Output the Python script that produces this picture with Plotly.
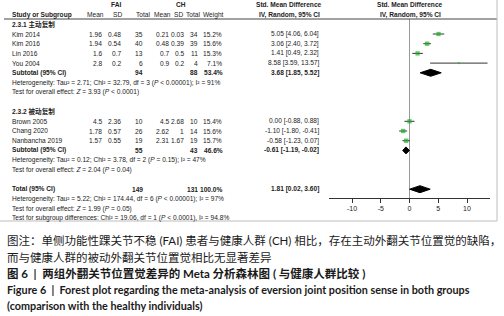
import plotly.graph_objects as go

W, H = 504, 316

# ---------------- data ----------------
group_labels = ["FAI", "CH"]
col_headers = ["Study or Subgroup", "Mean", "SD", "Total", "Mean", "SD", "Total", "Weight", "IV, Random, 95% CI"]
effect_title = "Std. Mean Difference"
effect_sub = "IV, Random, 95% CI"

sub1_title = "2.3.1 主动复制"
sub1_studies = ["Kim 2014", "Kim 2016", "Lin 2016", "You 2004"]
sub1_fai_mean = [1.96, 1.94, 1.6, 2.8]
sub1_fai_sd = [0.48, 0.54, 0.7, 0.2]
sub1_fai_n = [35, 40, 13, 6]
sub1_ch_mean = [0.21, 0.48, 0.7, 0.9]
sub1_ch_sd = [0.03, 0.39, 0.5, 0.2]
sub1_ch_n = [34, 39, 11, 4]
sub1_weight = [15.2, 15.6, 15.3, 7.1]
sub1_smd = [5.05, 3.06, 1.41, 8.58]
sub1_lo = [4.06, 2.40, 0.49, 3.59]
sub1_hi = [6.04, 3.72, 2.32, 13.57]
sub1_totals = [94, 88]
sub1_sum_weight = 53.4
sub1_sum_effect = [3.68, 1.85, 5.52]
sub1_het = "Heterogeneity: Tau² = 2.71; Chi² = 32.79, df = 3 (<i>P</i> < 0.00001); I² = 91%"
sub1_test = "Test for overall effect: <i>Z</i> = 3.93 (<i>P</i> < 0.0001)"

sub2_title = "2.3.2 被动复制"
sub2_studies = ["Brown 2005", "Chang 2020", "Nanbancha 2019"]
sub2_fai_mean = [4.5, 1.78, 1.57]
sub2_fai_sd = [2.36, 0.57, 0.55]
sub2_fai_n = [10, 26, 19]
sub2_ch_mean = [4.5, 2.62, 2.31]
sub2_ch_sd = [2.68, 1, 1.67]
sub2_ch_n = [10, 14, 19]
sub2_weight = [15.4, 15.6, 15.7]
sub2_smd = [0.00, -1.10, -0.58]
sub2_lo = [-0.88, -1.80, -1.23]
sub2_hi = [0.88, -0.41, 0.07]
sub2_totals = [55, 43]
sub2_sum_weight = 46.6
sub2_sum_effect = [-0.61, -1.19, -0.02]
sub2_het = "Heterogeneity: Tau² = 0.12; Chi² = 3.78, df = 2 (<i>P</i> = 0.15); I² = 47%"
sub2_test = "Test for overall effect: <i>Z</i> = 2.04 (<i>P</i> = 0.04)"

total_label = "Total (95% CI)"
total_totals = [149, 131]
total_weight = 100.0
total_effect = [1.81, 0.02, 3.60]
total_het = "Heterogeneity: Tau² = 5.22; Chi² = 174.44, df = 6 (<i>P</i> < 0.00001); I² = 97%"
total_test = "Test for overall effect: <i>Z</i> = 1.99 (<i>P</i> = 0.05)"
subgroup_test = "Test for subgroup differences: Chi² = 19.06, df = 1 (<i>P</i> < 0.0001), I² = 94.8%"

axis_ticks = [-10, -5, 0, 5, 10]

captions = [
    "图注：单侧功能性踝关节不稳 (FAI) 患者与健康人群 (CH) 相比，存在主动外翻关节位置觉的缺陷，",
    "而与健康人群的被动外翻关节位置觉相比无显著差异",
    "<b>图 6  |  两组外翻关节位置觉差异的 Meta 分析森林图 ( 与健康人群比较 )</b>",
    "<b>Figure 6  |  Forest plot regarding the meta-analysis of eversion joint position sense in both groups</b>",
    "<b>(comparison with the healthy individuals)</b>",
]

# ---------------- layout helpers ----------------
FONT = "Liberation Sans, Arial, Noto Sans CJK SC, sans-serif"
CAP_FONT = "Lato, Noto Sans CJK SC, sans-serif"
TXT = "#222222"
GREEN = "#1fae2a"
ROW0, ROWH = 24.3, 9.7
FS = 6.6


def row_of_px(y):
    return (y - ROW0) / ROWH


annotations = []


def txt(xpx, row, s, anchor="left", bold=False, size=FS):
    if bold:
        s = f"<b>{s}</b>"
    annotations.append(dict(x=xpx / W, xref="paper", y=row, yref="y", text=s,
                            xanchor=anchor, yanchor="middle", showarrow=False,
                            borderpad=0,
                            font=dict(family=FONT, size=size, color=TXT)))


def g(v):
    return f"{v:g}"


def ci(e, lo, hi):
    return f"{e:.2f} [{lo:.2f}, {hi:.2f}]"


X_STUDY = 11
X_DATA = [103, 122, 144, 170, 185, 199, 223, 320]
X_HEAD = [105, 123, 151, 172, 184, 201, 225, 320]
PLOT_CENTER = 410

# header rows
txt(116, -2, group_labels[0], "center", True)
txt(181, -2, group_labels[1], "center", True)
txt(289, -2, effect_title, "center", True)
txt(PLOT_CENTER, -2, effect_title, "center", True)
txt(X_STUDY, -1, col_headers[0], "left", True)
for xh, h in zip(X_HEAD[:-1], col_headers[1:-1]):
    txt(xh, -1, h, "right", False)
txt(289, -1, col_headers[-1], "center", True)
txt(PLOT_CENTER, -1, effect_sub, "center", True)


def study_rows(start, studies, fm, fs, fn, cm, cs, cn, w, e, lo, hi):
    rows = []
    for k in range(len(studies)):
        r = start + k
        rows.append(r)
        txt(X_STUDY, r, studies[k])
        vals = [g(fm[k]), g(fs[k]), str(fn[k]), g(cm[k]), g(cs[k]), str(cn[k]),
                f"{w[k]:.1f}%", ci(e[k], lo[k], hi[k])]
        for xd, v in zip(X_DATA, vals):
            txt(xd, r, v, "right")
    return rows


def summary_row(r, label, totals, weight, eff):
    txt(X_STUDY, r, label, "left", True)
    txt(X_DATA[2], r, str(totals[0]), "right", True)
    txt(X_DATA[5], r, str(totals[1]), "right", True)
    txt(X_DATA[6] + 1, r, f"{weight:.1f}%", "right", True)
    txt(X_DATA[7], r, ci(*eff), "right", True)


# subgroup 1
txt(X_STUDY, 0, sub1_title, "left", True)
rows1 = study_rows(1, sub1_studies, sub1_fai_mean, sub1_fai_sd, sub1_fai_n,
                   sub1_ch_mean, sub1_ch_sd, sub1_ch_n, sub1_weight,
                   sub1_smd, sub1_lo, sub1_hi)
r_sum1 = rows1[-1] + 1
summary_row(r_sum1, "Subtotal (95% CI)", sub1_totals, sub1_sum_weight, sub1_sum_effect)
txt(X_STUDY, r_sum1 + 1, sub1_het)
txt(X_STUDY, r_sum1 + 2, sub1_test)

# subgroup 2
r_t2 = r_sum1 + 4
txt(X_STUDY, r_t2, sub2_title, "left", True)
rows2 = study_rows(r_t2 + 1, sub2_studies, sub2_fai_mean, sub2_fai_sd, sub2_fai_n,
                   sub2_ch_mean, sub2_ch_sd, sub2_ch_n, sub2_weight,
                   sub2_smd, sub2_lo, sub2_hi)
r_sum2 = rows2[-1] + 1
summary_row(r_sum2, "Subtotal (95% CI)", sub2_totals, sub2_sum_weight, sub2_sum_effect)
txt(X_STUDY, r_sum2 + 1, sub2_het)
txt(X_STUDY, r_sum2 + 2, sub2_test)

# overall
r_tot = r_sum2 + 4
summary_row(r_tot, total_label, total_totals, total_weight, total_effect)
txt(X_STUDY, r_tot + 1, total_het)
txt(X_STUDY, r_tot + 2, total_test)
txt(X_STUDY, r_tot + 3, subgroup_test)

# captions
cap_y = [240, 257, 273, 289, 305]
cap_size = [11.5, 11.5, 11.5, 10.8, 10.8]
for yy, s, fs in zip(cap_y, captions, cap_size):
    annotations.append(dict(x=5 / W, xref="paper", y=1 - yy / H, yref="paper", text=s,
                            xanchor="left", yanchor="middle", showarrow=False,
                            font=dict(family=CAP_FONT, size=fs, color="#1a1a1a")))

# ---------------- marks ----------------
fig = go.Figure()

all_rows = rows1 + rows2
all_e = sub1_smd + sub2_smd
all_lo = sub1_lo + sub2_lo
all_hi = sub1_hi + sub2_hi
all_w = sub1_weight + sub2_weight

fig.add_trace(go.Scatter(
    x=all_e, y=all_rows, mode="markers",
    marker=dict(symbol="square", size=[w * 0.28 for w in all_w], color=GREEN, line_width=0),
    error_x=dict(type="data", symmetric=False,
                 array=[h - e for h, e in zip(all_hi, all_e)],
                 arrayminus=[e - l for e, l in zip(all_e, all_lo)],
                 color="#333333", thickness=1, width=0),
    hoverinfo="skip", showlegend=False, cliponaxis=False))


def diamond(r, eff, half=0.36):
    e, lo, hi = eff
    fig.add_trace(go.Scatter(
        x=[lo, e, hi, e, lo], y=[r, r - half, r, r + half, r],
        mode="lines", fill="toself", fillcolor="black",
        line=dict(color="black", width=1), hoverinfo="skip", showlegend=False))


diamond(r_sum1, sub1_sum_effect)
diamond(r_sum2, sub2_sum_effect)
diamond(r_tot, total_effect)

AXIS_Y = 198
shapes = [
    dict(type="line", xref="x", yref="y", x0=0, x1=0,
         y0=row_of_px(19), y1=row_of_px(AXIS_Y), line=dict(color="#9a9a9a", width=1), layer="below"),
    dict(type="line", xref="paper", yref="paper", x0=4 / W, x1=497 / W,
         y0=1 - 19 / H, y1=1 - 19 / H, line=dict(color="#444444", width=1)),
    dict(type="line", xref="paper", yref="paper", x0=497 / W, x1=497 / W,
         y0=1, y1=1 - 221 / H, line=dict(color="#bdbdbd", width=1)),
    dict(type="line", xref="paper", yref="paper", x0=0, x1=497 / W,
         y0=1 - 221 / H, y1=1 - 221 / H, line=dict(color="#bdbdbd", width=1)),
]

fig.update_layout(
    width=W, height=H, margin=dict(l=0, r=0, t=0, b=0),
    paper_bgcolor="white", plot_bgcolor="rgba(0,0,0,0)",
    showlegend=False,
    xaxis=dict(domain=[329 / W, 490 / W], range=[-14, 14], anchor="free",
               position=1 - AXIS_Y / H, showline=True, linecolor="#333333", linewidth=1,
               ticks="outside", ticklen=4, tickcolor="#333333", tickwidth=1,
               tickvals=axis_ticks, ticktext=[str(t) for t in axis_ticks],
               tickfont=dict(family=FONT, size=7, color=TXT),
               showgrid=False, zeroline=False, fixedrange=True),
    yaxis=dict(domain=[0, 1], range=[row_of_px(H), row_of_px(0)], visible=False,
               showgrid=False, zeroline=False, fixedrange=True),
    annotations=annotations, shapes=shapes,
)

fig.write_html("out.html")
